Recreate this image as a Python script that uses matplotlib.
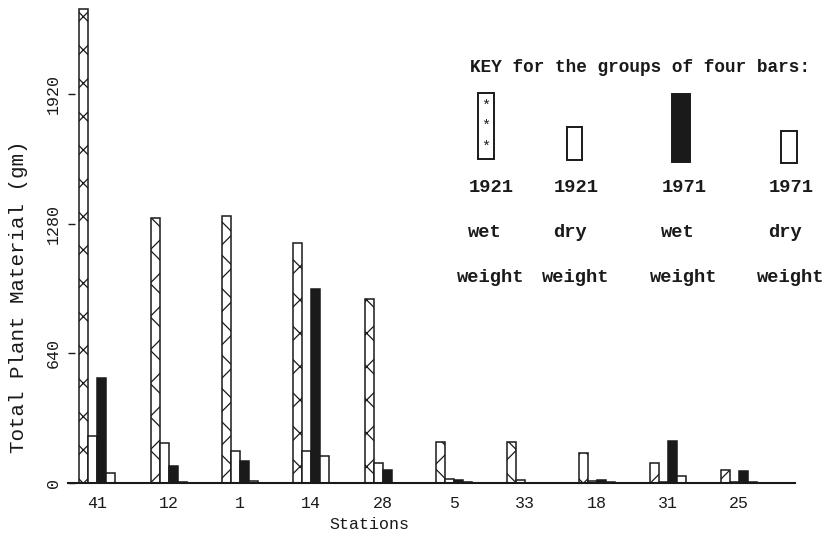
import matplotlib.pyplot as plt
import matplotlib.patches as mpatches
import numpy as np

# Data (gm)
stations = ["41", "12", "1", "14", "28", "5", "33", "18", "31", "25"]
wet_1921 = [2340, 1310, 1320, 1185, 910, 200, 200, 150, 100, 65]
dry_1921 = [230, 195, 160, 160, 100, 20, 15, 8, 5, 5]
wet_1971 = [520, 85, 110, 960, 65, 15, 0, 15, 205, 60]
dry_1971 = [48, 5, 10, 135, 0, 3, 0, 3, 35, 3]
y_ticks = [0, 640, 1280, 1920]

plt.rcParams['hatch.linewidth'] = 0.9
mono = ["Liberation Mono", "DejaVu Sans Mono"]
ink = "#1a1a1a"

W, H = 829, 538
fig = plt.figure(figsize=(W / 100, H / 100), dpi=100)


def px(x, y):
    # pixel (from top-left) -> figure fraction
    return x / W, 1 - y / H


# axes: baseline at y=483 px, spans x 68..795 px
ax = fig.add_axes([68 / W, (H - 483) / H, (795 - 68) / W, 483 / H])

x = np.arange(len(stations))
w = 0.126
series = [
    (wet_1921, dict(facecolor="white", hatch="x")),
    (dry_1921, dict(facecolor="white")),
    (wet_1971, dict(facecolor=ink)),
    (dry_1971, dict(facecolor="white")),
]
for k, (vals, style) in enumerate(series):
    ax.bar(x + (k - 1.5) * w, vals, w, edgecolor=ink, linewidth=1.1, **style)

ax.set_xlim(-0.41, 9.78)
ax.set_ylim(0, 2384)

for s in ["top", "right", "left"]:
    ax.spines[s].set_visible(False)
ax.spines["bottom"].set_linewidth(1.5)
ax.spines["bottom"].set_color(ink)

ax.set_xticks(x)
ax.set_xticklabels(stations, family=mono, fontsize=12, color=ink)
ax.tick_params(axis="x", length=0, pad=9)
ax.set_yticks(y_ticks)
ax.set_yticklabels([str(v) for v in y_ticks], family=mono, fontsize=12,
                   color=ink, rotation=90, va="center")
ax.tick_params(axis="y", direction="in", length=5, width=1, color=ink, pad=5)

ax.set_ylabel("Total Plant Material (gm)", family=mono, fontsize=15, color=ink)
ax.yaxis.set_label_coords(-0.055, 0.385)
ax.set_xlabel("Stations", family=mono, fontsize=12, color=ink)
ax.xaxis.set_label_coords(0.415, -0.07)

# Key
tx, ty = px(470, 68)
fig.text(tx, ty, "KEY for the groups of four bars:", family=mono,
         fontsize=12.8, fontweight="bold", color=ink, ha="left", va="center")

key_boxes = [
    (478, 93, 16, 66, dict(facecolor="white")),
    (567, 127, 15, 33, dict(facecolor="white")),
    (672, 94, 18, 68, dict(facecolor=ink)),
    (781, 131, 16, 32, dict(facecolor="white")),
]
for bx, by, bw, bh, st in key_boxes:
    x0, y0 = px(bx, by + bh)
    rect = mpatches.Rectangle((x0, y0), bw / W, bh / H, transform=fig.transFigure,
                              edgecolor=ink, linewidth=1.4, **st)
    fig.add_artist(rect)
for sy in [106, 126, 147]:
    fig.text(*px(486, sy), "*", family=mono, fontsize=11, color=ink,
             ha="center", va="center")

key_cols = [491, 576, 684, 791]
key_lines = [
    (188, ["1921", "1921", "1971", "1971"]),
    (232, ["wet", "dry", "wet", "dry"]),
    (278, ["weight", "weight", "weight", "weight"]),
]
for ly, words in key_lines:
    for cx, word in zip(key_cols, words):
        off = -6 if len(word) == 3 else 0
        fig.text(*px(cx + off, ly), word, family=mono, fontsize=13.5,
                 fontweight="bold", color=ink, ha="center", va="center")

fig.savefig("out.png", dpi=100)
